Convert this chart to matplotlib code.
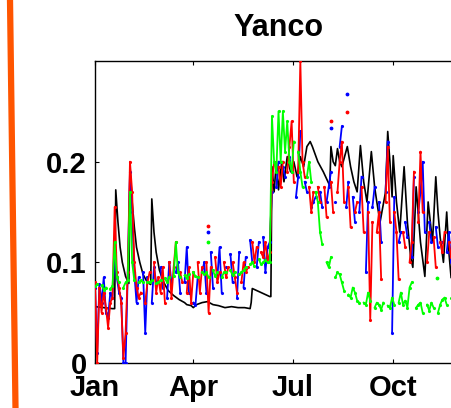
import numpy as np
import matplotlib
matplotlib.use('Agg')
import matplotlib.pyplot as plt
from matplotlib.lines import Line2D

plt.rcParams['font.family'] = ['Liberation Sans', 'DejaVu Sans']
plt.rcParams['font.weight'] = 'bold'

nan = np.nan

# soil moisture observations, one value every 2 days from Jan 1 (nan = missing)
green = [0.076, 0.078, nan, 0.077, 0.073, 0.075, nan, 0.074, 0.076, 0.12,
         0.085, 0.08, nan, 0.075, 0.08, 0.082, 0.17, 0.1, 0.082, nan,
         0.08, 0.082, 0.08, nan, 0.08, 0.08, 0.082, nan, 0.079, 0.08,
         0.082, nan, 0.084, 0.08, 0.085, nan, 0.086, 0.12, 0.09, 0.085,
         nan, 0.087, 0.084, 0.088, nan, 0.09, 0.086, 0.085, nan, 0.09,
         0.088, 0.09, 0.085, nan, 0.092, 0.086, 0.09, nan, 0.085, 0.09,
         0.09, nan, 0.092, 0.087, 0.09, nan, 0.088, 0.09, 0.092, 0.095,
         nan, 0.098, 0.1, 0.096, nan, 0.103, 0.098, 0.1, 0.102, 0.1,
         0.1, 0.245, 0.2, 0.19, 0.25, 0.2, 0.25, 0.21, 0.24, 0.2,
         0.19, 0.22, nan, 0.21, 0.19, 0.175, nan, 0.185, 0.2, 0.18,
         nan, 0.17, 0.16, 0.13, 0.118, nan, 0.1, 0.095, 0.105, nan,
         0.085, 0.09, 0.088, 0.08, 0.072, nan, 0.068, 0.065, 0.075, 0.07,
         0.062, 0.06, nan, 0.06, 0.058, 0.07, 0.062, nan, 0.055, 0.06,
         0.058, 0.053, 0.06, nan, 0.057, 0.055, 0.065, 0.058, nan, 0.06,
         0.07, 0.058, 0.062, 0.055, 0.075, 0.08, nan, 0.055, 0.058, 0.06,
         0.05, nan, 0.058, 0.052, 0.06, 0.055, nan, 0.05, 0.058, 0.063,
         0.065, 0.058, nan, 0.065]
red = [0.08, 0.0, 0.075, 0.05, 0.07, 0.055, 0.035, 0.06, 0.065, 0.155,
       0.09, 0.075, 0.06, 0.005, 0.03, 0.09, 0.2, 0.17, 0.1, 0.075,
       0.065, 0.07, nan, 0.06, 0.08, 0.09, nan, 0.1, 0.07, 0.085,
       0.07, 0.095, 0.06, nan, 0.1, 0.065, 0.095, 0.12, nan, 0.09,
       0.08, nan, 0.07, 0.095, 0.06, 0.09, nan, 0.1, 0.07, 0.095,
       nan, 0.1, 0.05, 0.095, nan, 0.105, 0.08, 0.09, nan, 0.1,
       0.085, 0.095, nan, 0.1, 0.085, 0.07, nan, 0.08, 0.1, 0.09,
       0.095, nan, 0.12, 0.1, 0.115, nan, 0.11, 0.105, 0.12, 0.1,
       0.11, 0.18, 0.2, nan, 0.195, 0.175, 0.2, nan, 0.19, 0.215,
       0.24, 0.18, nan, 0.19, 0.3, 0.2, 0.185, nan, 0.175, 0.15,
       0.17, nan, 0.175, 0.16, nan, 0.175, 0.145, nan, 0.18, 0.15,
       nan, 0.17, 0.2, 0.22, 0.16, nan, 0.175, 0.135, nan, 0.15,
       0.16, nan, 0.175, 0.13, nan, 0.15, 0.043, 0.14, nan, 0.13,
       0.15, 0.083, nan, 0.16, 0.215, 0.14, nan, 0.15, 0.13, 0.083,
       nan, 0.13, 0.115, nan, 0.1, 0.12, 0.19, nan, 0.14, 0.21,
       0.15, nan, 0.1, 0.13, nan, 0.125, 0.095, nan, 0.12, 0.11,
       0.13, nan, 0.12, 0.105]
blue = [0.075, 0.01, 0.078, 0.06, 0.085, 0.05, 0.045, 0.07, 0.065, 0.11,
        0.085, 0.07, 0.065, 0.0, 0.0, 0.09, 0.19, 0.15, 0.09, 0.06,
        0.085, nan, 0.09, 0.03, 0.085, nan, 0.06, 0.095, 0.08, nan,
        0.095, 0.075, nan, 0.065, 0.1, 0.08, nan, 0.09, 0.1, 0.07,
        nan, 0.08, 0.115, 0.07, nan, 0.06, 0.058, 0.085, nan, 0.09,
        0.1, 0.07, nan, 0.11, 0.075, nan, 0.085, 0.115, 0.07, nan,
        0.095, nan, 0.108, 0.08, nan, 0.065, 0.11, nan, 0.075, 0.105,
        nan, 0.122, 0.1, nan, 0.095, 0.12, nan, 0.125, 0.09, 0.115,
        0.12, 0.17, nan, 0.175, 0.2, nan, 0.195, 0.185, nan, 0.205,
        0.19, nan, 0.165, 0.185, 0.23, nan, 0.18, 0.17, nan, 0.155,
        0.16, 0.165, nan, 0.17, 0.155, nan, 0.16, 0.175, 0.19, nan,
        0.16, nan, 0.215, 0.235, nan, 0.155, 0.18, nan, 0.165, 0.14,
        nan, 0.15, 0.185, nan, 0.09, 0.16, nan, 0.155, 0.175, nan,
        0.16, 0.12, nan, 0.17, 0.22, nan, 0.03, 0.165, nan, 0.12,
        0.13, nan, 0.14, 0.125, nan, 0.105, 0.185, nan, 0.15, 0.17,
        0.2, 0.13, nan, 0.14, 0.12, nan, 0.135, 0.115, nan, 0.12,
        nan, 0.11, 0.13, 0.1]

# single isolated readings (day, value)
red_pt_day = [103, 216, 231]
red_pt = [0.136, 0.24, 0.249]
blue_pt_day = [103, 216, 231]
blue_pt = [0.13, 0.233, 0.267]
green_pt_day = [103, 313]
green_pt = [0.12, 0.084]

# model run (black)
model_day = [0, 8, 16, 18, 19, 21, 23, 25, 28, 31, 32, 34, 36, 38, 41, 44, 48, 51,
             52, 54, 56, 59, 63, 67, 72, 77, 82, 84, 88, 90, 93, 98, 103, 108, 113,
             119, 125, 131, 137, 142, 143, 144, 148, 154, 160, 161, 162,
             164, 166, 168, 171, 173, 176, 179, 182, 185, 188, 191, 194, 197, 199,
             204, 209, 215, 216, 218, 220, 222, 224, 226, 231, 234, 237, 240,
             243, 246, 249, 253, 256, 258, 261, 266, 268, 270, 272, 273, 276, 279,
             283, 286, 289, 291, 294, 298, 302, 305, 309, 312, 314, 316, 319, 322,
             324, 326]
model = [0.056, 0.055, 0.054, 0.054, 0.172, 0.14, 0.115, 0.1, 0.086, 0.079, 0.196,
         0.16, 0.135, 0.115, 0.1, 0.088, 0.08, 0.078,
         0.163, 0.13, 0.11, 0.092, 0.08, 0.072, 0.067, 0.063, 0.06, 0.058, 0.057,
         0.055, 0.058, 0.06, 0.061, 0.058, 0.057,
         0.055, 0.056, 0.055, 0.055, 0.054, 0.06, 0.074, 0.072, 0.069, 0.066,
         0.066, 0.195,
         0.17, 0.2, 0.172, 0.2, 0.18, 0.205, 0.19, 0.2, 0.185, 0.205, 0.195, 0.215,
         0.22, 0.215,
         0.2, 0.19, 0.176, 0.215, 0.2, 0.196, 0.213, 0.2, 0.195, 0.215, 0.195,
         0.18, 0.17,
         0.216, 0.18, 0.16, 0.21, 0.175, 0.16, 0.14, 0.17, 0.23, 0.2, 0.165,
         0.206, 0.16, 0.13,
         0.195, 0.14, 0.105, 0.095, 0.175, 0.12, 0.086, 0.16, 0.12, 0.185, 0.15,
         0.125, 0.1, 0.15, 0.11, 0.085]

xtick_day = [0, 90, 181, 273]
xtick_lab = ['Jan', 'Apr', 'Jul', 'Oct']

fig = plt.figure(figsize=(4.51, 4.08), dpi=100)
ax = fig.add_axes([95 / 451, 45 / 408, 367 / 451, 302 / 408])

obs_day = np.arange(len(green)) * 2
ax.plot(model_day, model, color='black', lw=1.2, zorder=2)
ax.plot(obs_day, blue, color='#0000ff', lw=1.3, marker='.', ms=2.5, zorder=3)
ax.plot(obs_day, red, color='#ff0000', lw=1.3, marker='.', ms=2.5, zorder=4)
ax.plot(obs_day, green, color='#00ff00', lw=1.3, marker='.', ms=2.5, zorder=5)
ax.plot(blue_pt_day, blue_pt, '.', color='#0000ff', ms=3.5)
ax.plot(red_pt_day, red_pt, '.', color='#ff0000', ms=3.5)
ax.plot(green_pt_day, green_pt, '.', color='#00ff00', ms=3.5)

ax.set_xlim(0, 336)
ax.set_ylim(0, 0.3)
ax.set_xticks(xtick_day)
ax.set_xticklabels(xtick_lab)
ax.set_yticks([0, 0.1, 0.2])
ax.set_yticklabels(['0', '0.1', '0.2'])
ax.tick_params(direction='in', length=3, width=0.8, labelsize=21, top=True,
               right=True, pad=6)
ax.tick_params(axis='x', pad=8)
for s in ax.spines.values():
    s.set_linewidth(1.0)
ax.set_title('Yanco', fontsize=22, fontweight='bold', pad=18)

# orange frame edge at the left
fig.add_artist(Line2D([10 / 451, 15.5 / 451], [1, 0], color='#ff5500', lw=4.5,
                      transform=fig.transFigure))

fig.savefig('out.png', dpi=100)
